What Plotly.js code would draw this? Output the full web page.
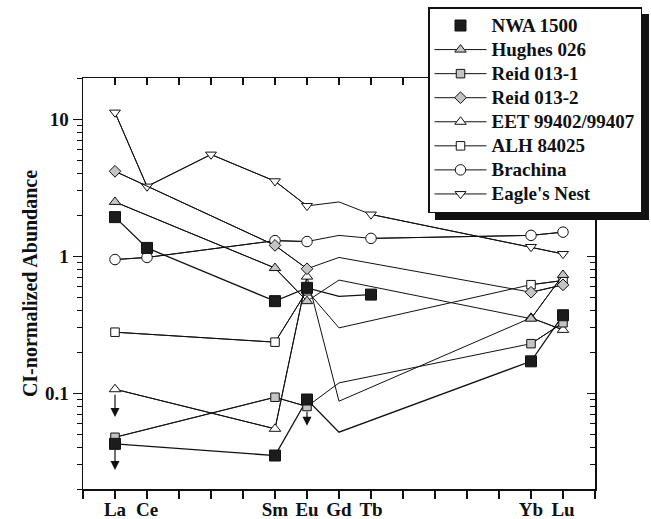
<!DOCTYPE html>
<html><head><meta charset="utf-8">
<script src="https://cdn.plot.ly/plotly-3.0.1.min.js"></script>
<style>
html,body{margin:0;padding:0;background:#fff}
#chart{width:651px;height:519px}
#chart .legend rect.bg{filter:drop-shadow(7px 7px 0 #111)}
</style>
</head><body><div id="chart"></div>
<script>
// ---- data ----
const ree = ['La','Ce','Pr','Nd','Pm','Sm','Eu','Gd','Tb','Dy','Ho','Er','Tm','Yb','Lu'];
const reeZ = [57,58,59,60,61,62,63,64,65,66,67,68,69,70,71];
const labelledRee = ['La','Ce','Sm','Eu','Gd','Tb','Yb','Lu'];
const lineOnlyEl = 'Gd'; // vertex drawn in the line but without symbol

const nwaHighX = ['La','Ce','Sm','Eu','Gd','Tb'];
const nwaHighY = [1.93,1.15,0.47,0.588,0.51,0.525];
const nwaLowX = ['La','Sm','Eu','Gd','Yb','Lu'];
const nwaLowY = [0.0427,0.0351,0.090,0.052,0.171,0.371];
const hughesX = ['La','Sm','Eu','Gd','Yb','Lu'];
const hughesY = [2.49,0.82,0.47,0.67,0.35,0.73];
const reid1X = ['La','Sm','Eu','Gd','Yb','Lu'];
const reid1Y = [0.0477,0.0935,0.080,0.119,0.23,0.327];
const reid2X = ['La','Sm','Eu','Gd','Yb','Lu'];
const reid2Y = [4.17,1.20,0.81,0.98,0.546,0.618];
const eetX = ['La','Sm','Eu','Gd','Yb','Lu'];
const eetY = [0.107,0.055,0.71,0.0875,0.355,0.29];
const alhX = ['La','Sm','Eu','Gd','Yb','Lu'];
const alhY = [0.279,0.236,0.56,0.30,0.62,0.665];
const brachinaX = ['La','Ce','Sm','Eu','Gd','Tb','Yb','Lu'];
const brachinaY = [0.946,0.98,1.30,1.28,1.42,1.35,1.42,1.50];
const eagleX = ['La','Ce','Nd','Sm','Eu','Gd','Tb','Yb','Lu'];
const eagleY = [11.2,3.23,5.53,3.53,2.33,2.49,2.02,1.17,1.04];

// upper-limit arrows
const arrowEl = ['La','La','Eu'];
const arrowFrom = [0.100,0.0395,0.075];
const arrowTo = [0.067,0.0275,0.058];

// ---- styles ----
const GRAY = '#c4c4c4';
const series = [
  {name:'NWA 1500', x:nwaHighX, y:nwaHighY, sym:'square', fill:'#1c1c1c', size:11, lw:1.3, legendLine:false, legend:true},
  {name:'NWA 1500', x:nwaLowX, y:nwaLowY, sym:'square', fill:'#1c1c1c', size:11, lw:1.3, legendLine:false, legend:false},
  {name:'Hughes 026', x:hughesX, y:hughesY, sym:'triangle-up', fill:GRAY, size:10, lw:1, legendLine:true, legend:true},
  {name:'Reid 013-1', x:reid1X, y:reid1Y, sym:'square', fill:GRAY, size:8.5, lw:1, legendLine:true, legend:true},
  {name:'Reid 013-2', x:reid2X, y:reid2Y, sym:'diamond', fill:GRAY, size:9, lw:1, legendLine:true, legend:true},
  {name:'EET 99402/99407', x:eetX, y:eetY, sym:'triangle-up', fill:'#ffffff', size:10, lw:1, legendLine:true, legend:true},
  {name:'ALH 84025', x:alhX, y:alhY, sym:'square', fill:'#ffffff', size:8.5, lw:1, legendLine:true, legend:true},
  {name:'Brachina', x:brachinaX, y:brachinaY, sym:'circle', fill:'#ffffff', size:10.5, lw:1, legendLine:true, legend:true},
  {name:"Eagle's Nest", x:eagleX, y:eagleY, sym:'triangle-down', fill:'#ffffff', size:9.5, lw:1, legendLine:true, legend:true}
];
const z = el => reeZ[ree.indexOf(el)];

const traces = [];
// lines (all vertices)
series.forEach(s => {
  traces.push({type:'scatter', mode:'lines', x:s.x.map(z), y:s.y,
    line:{color:'#111', width:s.lw}, showlegend:false, hoverinfo:'skip'});
});
// symbols (Gd vertex left blank); drawn last-to-first so NWA 1500 sits on top
series.slice().reverse().forEach(s => {
  const ym = s.y.map((v,i) => s.x[i] === lineOnlyEl ? null : v);
  traces.push({type:'scatter', mode: s.legendLine ? 'lines+markers' : 'markers',
    name:'<span style="font-size:19px">' + s.name + '</span>',
    x:s.x.map(z), y:ym, connectgaps:false, showlegend:s.legend,
    line:{color:'#111', width:s.lw},
    marker:{symbol:s.sym, size:s.size, color:s.fill, line:{color:'#111', width:1}}});
});
// dummy for mirrored axes
traces.push({type:'scatter', mode:'markers', x:[null], y:[null], xaxis:'x2', yaxis:'y2', showlegend:false, hoverinfo:'skip'});

const tickVals = [reeZ[0]-1].concat(reeZ, [reeZ[reeZ.length-1]+1]);
const tickText = tickVals.map(v => { const e = ree[reeZ.indexOf(v)]; return labelledRee.includes(e) ? e : ''; });
const xRange = [tickVals[0], tickVals[tickVals.length-1]];
const yRange = [Math.log10(0.02), Math.log10(20)];
const serif = '"Liberation Serif", "Times New Roman", serif';
const tickFont = {family:serif, size:19, color:'#111', weight:'bold'};

const annotations = arrowEl.map((e,i) => ({
  x:z(e), y:Math.log10(arrowTo[i]), ax:z(e), ay:Math.log10(arrowFrom[i]),
  xref:'x', yref:'y', axref:'x', ayref:'y', text:'', showarrow:true,
  arrowhead:2, arrowsize:1.5, arrowwidth:1.2, arrowcolor:'#111', standoff:0, startstandoff:0
}));

const layout = {
  width:651, height:519,
  margin:{l:83, r:56, t:78, b:30, autoexpand:false},
  paper_bgcolor:'#fff', plot_bgcolor:'#fff',
  showlegend:true,
  legend:{x:(428-83)/512, xanchor:'left', y:1+(78-7)/411, yanchor:'top', traceorder:'reversed',
    bgcolor:'#fff', bordercolor:'#111', borderwidth:1.5,
    font:{family:serif, size:16.2, color:'#111', weight:'bold'}, tracegroupgap:0, itemwidth:52},
  xaxis:{range:xRange, tickmode:'array', tickvals:tickVals, ticktext:tickText,
    showline:true, linecolor:'#111', linewidth:1.5, ticks:'outside', ticklen:8, tickwidth:1.2, tickcolor:'#111',
    showgrid:false, zeroline:false, tickfont:tickFont, ticklabelstandoff:-5, fixedrange:true, automargin:false},
  xaxis2:{overlaying:'x', side:'top', range:xRange, tickmode:'array', tickvals:tickVals,
    showticklabels:false, showline:true, linecolor:'#111', linewidth:1.5, ticks:'inside', ticklen:7, tickwidth:1.2, tickcolor:'#111',
    showgrid:false, zeroline:false, automargin:false},
  yaxis:{type:'log', range:yRange, tickvals:[0.1,1,10], ticktext:['0.1','1','10'],
    showline:true, linecolor:'#111', linewidth:1.5, ticks:'outside', ticklen:9, tickwidth:1.2, tickcolor:'#111',
    minor:{dtick:'D1', ticks:'outside', ticklen:5, tickwidth:1, tickcolor:'#111', showgrid:false},
    showgrid:false, zeroline:false, tickfont:tickFont, automargin:false,
    title:{text:'CI-normalized Abundance', font:{family:serif, size:20, color:'#111', weight:'bold'}, standoff:2}},
  yaxis2:{type:'log', overlaying:'y', side:'right', range:yRange, tickvals:[0.1,1,10],
    showticklabels:false, showline:true, linecolor:'#111', linewidth:1.5, ticks:'inside', ticklen:8, tickwidth:1.2, tickcolor:'#111',
    minor:{dtick:'D1', ticks:'inside', ticklen:5, tickwidth:1, tickcolor:'#111', showgrid:false},
    showgrid:false, zeroline:false, automargin:false},
  annotations:annotations
};

Plotly.newPlot('chart', traces, layout, {staticPlot:true});
</script></body></html>
